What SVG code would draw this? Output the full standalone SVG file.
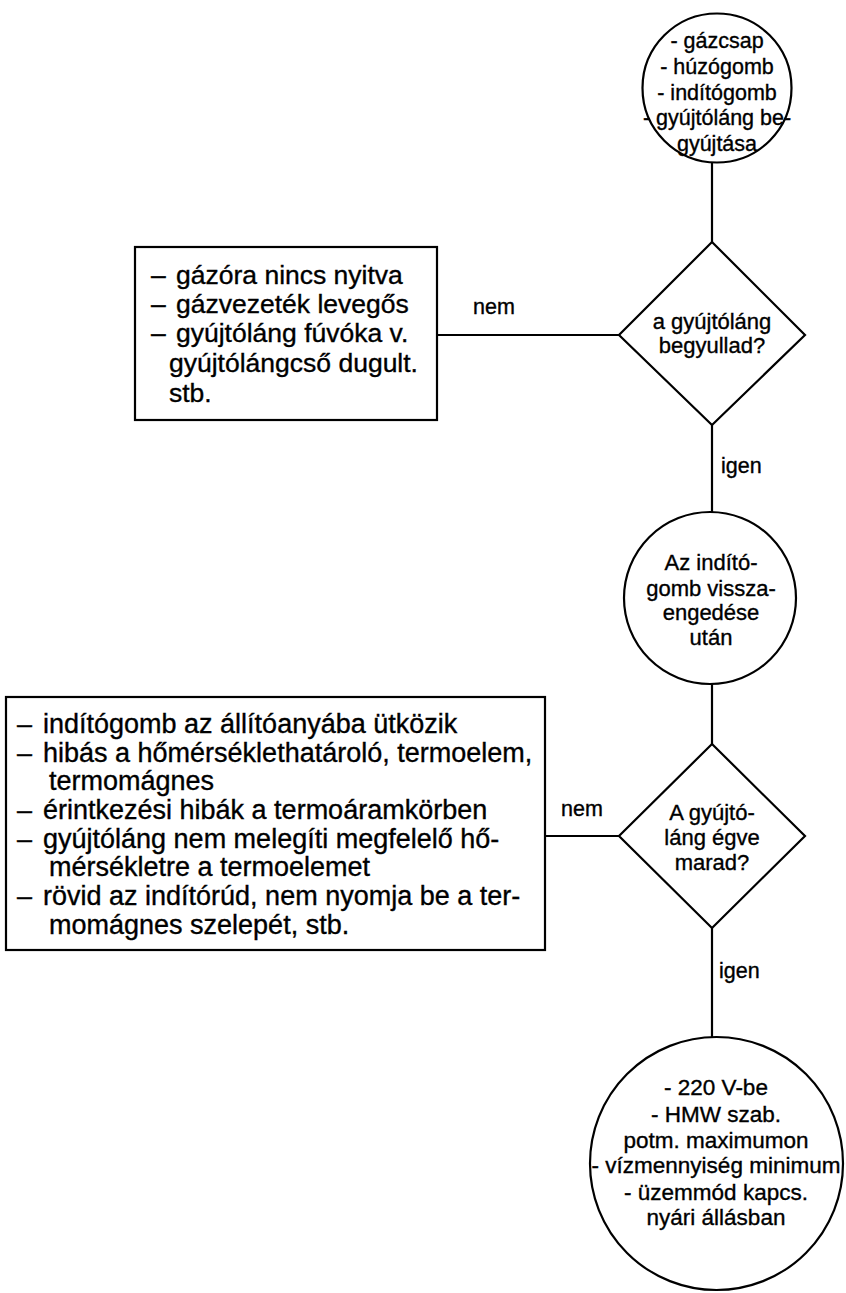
<svg xmlns="http://www.w3.org/2000/svg" width="846" height="1293" viewBox="0 0 846 1293">
  <style>
    .shape { fill: none; stroke: #000; stroke-width: 2.2; }
    .link { fill: none; stroke: #000; stroke-width: 2.2; }
    text { font-family: "Liberation Sans", Arial, Helvetica, sans-serif; fill: #000; stroke: #000; stroke-width: 0.35; }
    .c { text-anchor: middle; font-size: 21.5px; }
    .d { text-anchor: middle; font-size: 22px; }
    .e { text-anchor: middle; font-size: 22.5px; }
    .b1 { font-size: 26.5px; }
    .b2 { font-size: 27px; }
    .lbl { font-size: 21.5px; }
  </style>
  <rect width="846" height="1293" fill="#fff"/>

  <!-- connectors -->
  <g id="connectors">
    <line class="link" x1="712" y1="162" x2="712" y2="242"/>
    <line class="link" x1="437" y1="335" x2="619" y2="335"/>
    <line class="link" x1="712" y1="425" x2="712" y2="512"/>
    <line class="link" x1="712" y1="684" x2="712" y2="744"/>
    <line class="link" x1="545" y1="836" x2="619" y2="836"/>
    <line class="link" x1="712" y1="928" x2="712" y2="1037"/>
    <text class="lbl" x="473" y="314">nem</text>
    <text class="lbl" x="721" y="473">igen</text>
    <text class="lbl" x="561" y="816">nem</text>
    <text class="lbl" x="719" y="978">igen</text>
  </g>

  <!-- start: preparations -->
  <g id="start">
    <circle class="shape" cx="717" cy="88" r="74.5"/>
    <text class="c" x="717" y="48">- gázcsap</text>
    <text class="c" x="717" y="74">- húzógomb</text>
    <text class="c" x="717" y="100">- indítógomb</text>
    <text class="c" x="717" y="125">- gyújtóláng be-</text>
    <text class="c" x="717" y="151">gyújtása</text>
  </g>

  <!-- decision: pilot flame ignites? -->
  <g id="decision1">
    <polygon class="shape" points="712,242 805,335 712,425 619,335"/>
    <text class="d" x="712" y="329">a gyújtóláng</text>
    <text class="d" x="712" y="353">begyullad?</text>
  </g>

  <!-- causes when the pilot does not ignite -->
  <g id="causes1">
    <rect class="shape" x="135" y="247" width="302" height="173"/>
    <text class="b1"><tspan x="151" y="284">–</tspan><tspan x="176" y="284">gázóra nincs nyitva</tspan></text>
    <text class="b1"><tspan x="151" y="313">–</tspan><tspan x="176" y="313">gázvezeték levegős</tspan></text>
    <text class="b1"><tspan x="151" y="342">–</tspan><tspan x="176" y="342">gyújtóláng fúvóka v.</tspan></text>
    <text class="b1" x="169" y="372">gyújtólángcső dugult.</text>
    <text class="b1" x="169" y="402">stb.</text>
  </g>

  <!-- after releasing the start button -->
  <g id="release">
    <circle class="shape" cx="710" cy="598" r="86"/>
    <text class="d" x="711" y="570">Az indító-</text>
    <text class="d" x="711" y="596">gomb vissza-</text>
    <text class="d" x="711" y="620">engedése</text>
    <text class="d" x="711" y="645">után</text>
  </g>

  <!-- decision: pilot flame stays lit? -->
  <g id="decision2">
    <polygon class="shape" points="712,744 805,836 712,928 619,836"/>
    <text class="d" x="712" y="820">A gyújtó-</text>
    <text class="d" x="712" y="845">láng égve</text>
    <text class="d" x="712" y="870">marad?</text>
  </g>

  <!-- causes when the pilot goes out -->
  <g id="causes2">
    <rect class="shape" x="6" y="697" width="539" height="253"/>
    <text class="b2"><tspan x="17" y="733">–</tspan><tspan x="43" y="733">indítógomb az állítóanyába ütközik</tspan></text>
    <text class="b2"><tspan x="17" y="762">–</tspan><tspan x="43" y="762">hibás a hőmérséklethatároló, termoelem,</tspan></text>
    <text class="b2" x="49" y="790">termomágnes</text>
    <text class="b2"><tspan x="17" y="819">–</tspan><tspan x="43" y="819">érintkezési hibák a termoáramkörben</tspan></text>
    <text class="b2"><tspan x="17" y="848">–</tspan><tspan x="43" y="848">gyújtóláng nem melegíti megfelelő hő-</tspan></text>
    <text class="b2" x="49" y="876">mérsékletre a termoelemet</text>
    <text class="b2"><tspan x="17" y="905">–</tspan><tspan x="43" y="905">rövid az indítórúd, nem nyomja be a ter-</tspan></text>
    <text class="b2" x="49" y="934">momágnes szelepét, stb.</text>
  </g>

  <!-- settings for normal operation -->
  <g id="settings">
    <circle class="shape" cx="716.5" cy="1163.5" r="126.5"/>
    <text class="e" x="716" y="1095">- 220 V-be</text>
    <text class="e" x="716" y="1122">- HMW szab.</text>
    <text class="e" x="716" y="1148">potm. maximumon</text>
    <text class="e" x="716" y="1173">- vízmennyiség minimum</text>
    <text class="e" x="716" y="1200">- üzemmód kapcs.</text>
    <text class="e" x="716" y="1225">nyári állásban</text>
  </g>
</svg>
